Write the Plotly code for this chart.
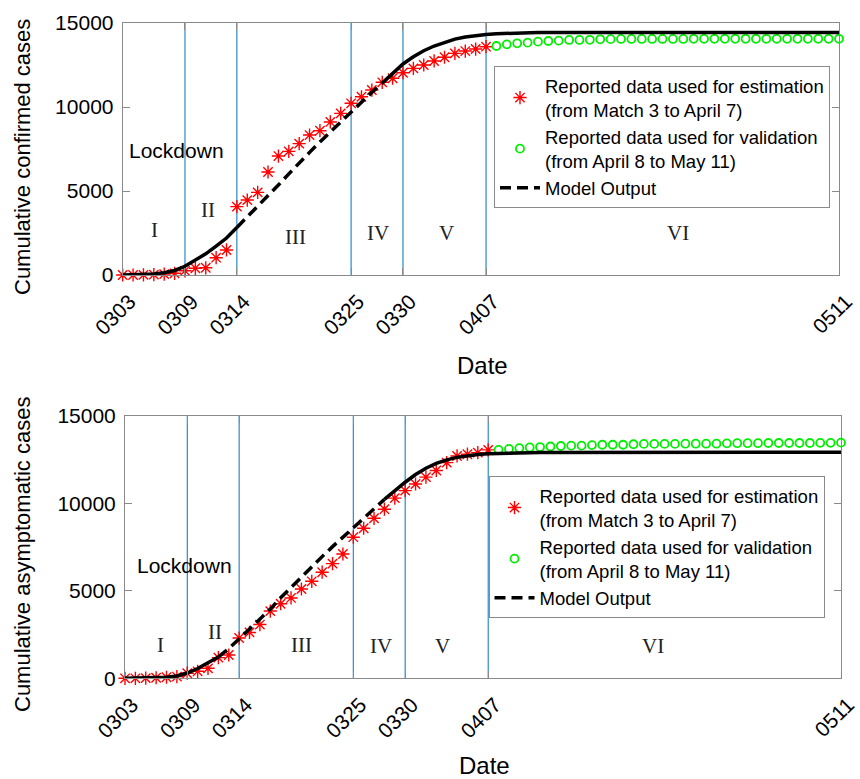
import plotly.graph_objects as go

# ---------------- data ----------------
phase_days = [0, 6, 11, 22, 27, 35, 69]
phase_labels = ["0303", "0309", "0314", "0325", "0330", "0407", "0511"]

est_days = list(range(0, 36))      # March 3 .. April 7
val_days = list(range(36, 70))     # April 8 .. May 11
model_days = list(range(0, 70))

conf_est = [0, 0, 10, 20, 50, 100, 250, 400, 430, 1030, 1490, 4070, 4460, 4920,
            6130, 7080, 7360, 7820, 8330, 8590, 9110, 9620, 10220, 10610, 11010,
            11470, 11710, 12040, 12300, 12500, 12740, 12960, 13190, 13330, 13450, 13590]
conf_val = [13630, 13730, 13790, 13830, 13890, 13930, 13950, 13990, 13990, 14000,
            14030, 14040, 14050, 14050, 14050, 14050, 14050, 14050, 14050, 14060,
            14060, 14060, 14060, 14060, 14060, 14060, 14060, 14060, 14060, 14060,
            14060, 14060, 14060, 14060]
conf_model = [0, 10, 25, 60, 140, 270, 520, 870, 1260, 1720, 2200, 2830, 3450, 4080,
              4720, 5360, 6020, 6680, 7300, 7920, 8520, 9120, 9720, 10300, 10870,
              11420, 11980, 12560, 12990, 13350, 13630, 13860, 14040, 14170, 14260,
              14320, 14360, 14390, 14410, 14420, 14430, 14430, 14430, 14430, 14430,
              14440, 14440, 14440, 14440, 14440, 14440, 14440, 14440, 14440, 14440,
              14440, 14440, 14440, 14440, 14440, 14440, 14440, 14440, 14440, 14440,
              14440, 14440, 14440, 14440, 14440]

asym_est = [0, 0, 10, 30, 60, 100, 290, 400, 570, 1180, 1330, 2300, 2620, 3070,
            3840, 4260, 4590, 5100, 5540, 6060, 6550, 7100, 8060, 8570, 9140, 9660,
            10290, 10720, 11100, 11490, 11870, 12320, 12700, 12800, 12890, 13050]
asym_val = [13050, 13100, 13150, 13190, 13210, 13240, 13270, 13290, 13290, 13320,
            13340, 13340, 13340, 13370, 13390, 13390, 13390, 13390, 13400, 13400,
            13400, 13400, 13420, 13430, 13430, 13430, 13440, 13440, 13440, 13440,
            13440, 13450, 13450, 13460]
asym_model = [0, 5, 15, 30, 60, 130, 300, 560, 870, 1220, 1700, 2250, 2800, 3350,
              3950, 4600, 5200, 5800, 6380, 6950, 7520, 8070, 8620, 9170, 9700,
              10220, 10720, 11200, 11640, 12000, 12280, 12480, 12620, 12710, 12780,
              12820, 12850, 12870, 12880, 12890, 12900, 12900, 12900, 12900, 12900,
              12910, 12910, 12910, 12910, 12910, 12910, 12910, 12910, 12910, 12910,
              12910, 12910, 12910, 12910, 12910, 12910, 12910, 12910, 12910, 12910,
              12910, 12910, 12910, 12910, 12910]

y_ticks = [0, 5000, 10000, 15000]
y_tick_labels = ["0", "5000", "10000", "15000"]
phase_names = ["I", "II", "III", "IV", "V", "VI"]
est_name = "Reported data used for estimation<br>(from Match 3 to April 7)"
val_name = "Reported data used for validation<br>(from April 8 to May 11)"

# ---------------- style ----------------
W, H = 860, 779
SANS = "Liberation Sans, Arial, sans-serif"
SERIF = "Liberation Serif, Times New Roman, serif"
AX = "#8a8a8a"
BLUE = "#0072BD"

fig = go.Figure()


def add_panel(xa, ya, est, val, model, legend, dash_range):
    fig.add_trace(go.Scatter(x=est_days, y=est, mode="markers", name=est_name,
                             marker=dict(symbol="asterisk-open", size=11, color="red",
                                         line=dict(color="red", width=1.4)),
                             xaxis=xa, yaxis=ya, legend=legend, cliponaxis=False))
    fig.add_trace(go.Scatter(x=val_days, y=val, mode="markers", name=val_name,
                             marker=dict(symbol="circle-open", size=8, color="#00ee00",
                                         line=dict(color="#00ee00", width=1.8)),
                             xaxis=xa, yaxis=ya, legend=legend, cliponaxis=False))
    a, b = dash_range
    fig.add_trace(go.Scatter(x=model_days[:a + 1], y=model[:a + 1], mode="lines",
                             line=dict(color="black", width=3.5), showlegend=False,
                             xaxis=xa, yaxis=ya, hoverinfo="skip"))
    fig.add_trace(go.Scatter(x=model_days[b:], y=model[b:], mode="lines",
                             line=dict(color="black", width=3.5), showlegend=False,
                             xaxis=xa, yaxis=ya, hoverinfo="skip"))
    fig.add_trace(go.Scatter(x=model_days[a:b + 1], y=model[a:b + 1], mode="lines",
                             name="Model Output",
                             line=dict(color="black", width=3.5, dash="11px,6px"),
                             xaxis=xa, yaxis=ya, legend=legend))
    for d in phase_days[1:-1]:
        fig.add_shape(type="line", xref=xa, yref=ya + " domain", x0=d, x1=d, y0=0, y1=1,
                      line=dict(color=BLUE, width=1), layer="below")


add_panel("x", "y", conf_est, conf_val, conf_model, "legend", (11, 25))
add_panel("x2", "y2", asym_est, asym_val, asym_model, "legend2", (9, 25))


def axis_common():
    return dict(showline=True, linecolor=AX, linewidth=1, mirror="ticks",
                ticks="inside", ticklen=7, tickcolor=AX, showgrid=False,
                zeroline=False, automargin=False,
                tickfont=dict(family=SANS, size=21, color="black"))


def x_axis(domain, anchor):
    return dict(**axis_common(), domain=domain, range=[0, 69], tickvals=phase_days,
                ticktext=phase_labels, tickangle=-45, anchor=anchor,
                ticklabelstandoff=5, ticklabelshift=7)


def y_axis(domain, anchor):
    return dict(**axis_common(), domain=domain, range=[0, 15000], tickvals=y_ticks,
                ticktext=y_tick_labels, ticklabelstandoff=4, anchor=anchor)


def legend_box(x, y):
    return dict(x=x, y=y, xanchor="left", yanchor="top", bordercolor=AX, borderwidth=1,
                bgcolor="white", tracegroupgap=0, itemwidth=40,
                font=dict(family=SANS, size=18.5, color="black"))


top_px = (23, 275)
bot_px = (415.7, 678.3)
fig.update_layout(
    xaxis=x_axis([122.7 / W, 839 / W], "y"),
    yaxis=y_axis([1 - top_px[1] / H, 1 - top_px[0] / H], "x"),
    xaxis2=x_axis([125 / W, 841 / W], "y2"),
    yaxis2=y_axis([1 - bot_px[1] / H, 1 - bot_px[0] / H], "x2"),
    width=W, height=H, margin=dict(l=0, r=0, t=0, b=0, autoexpand=False),
    paper_bgcolor="white", plot_bgcolor="white", showlegend=True,
    legend=legend_box(494 / W, 1 - 66 / H),
    legend2=legend_box(488.5 / W, 1 - 476 / H),
)

# phase labels (Roman numerals) and lockdown text
top_lab = [(3.1, 2680), (8.2, 3870), (16.6, 2260), (24.6, 2500), (31.2, 2500), (53.5, 2500)]
bot_lab = [(3.4, 1900), (8.7, 2650), (17.0, 1900), (24.7, 1850), (30.6, 1850), (50.9, 1850)]
for (xa, ya, labs, lock) in [("x", "y", top_lab, (5.2, 7440)), ("x2", "y2", bot_lab, (5.7, 6470))]:
    for name, (px, py) in zip(phase_names, labs):
        fig.add_annotation(x=px, y=py, xref=xa, yref=ya, text=name, showarrow=False,
                           font=dict(family=SERIF, size=21, color="#222"))
    fig.add_annotation(x=lock[0], y=lock[1], xref=xa, yref=ya, text="Lockdown",
                       showarrow=False, font=dict(family=SANS, size=21, color="black"))

# axis titles
for (txt, cx, cy, ang, fs) in [("Cumulative confirmed cases", 22, 157, -90, 22),
                               ("Date", 482, 365, 0, 24),
                               ("Cumulative asymptomatic cases", 22, 555, -90, 22),
                               ("Date", 484, 765, 0, 24)]:
    fig.add_annotation(x=cx / W, y=1 - cy / H, xref="paper", yref="paper", text=txt,
                       showarrow=False, textangle=ang, xanchor="center", yanchor="middle",
                       font=dict(family=SANS, size=fs, color="black"))

fig.write_html("out.html")
